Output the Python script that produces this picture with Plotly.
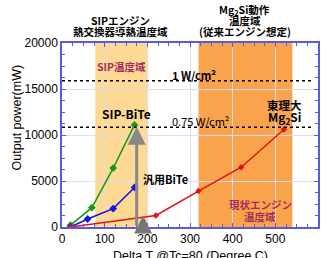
import plotly.graph_objects as go

# Data
green_x = [20, 70, 120, 170]
green_y = [200, 2100, 6400, 11100]
blue_x = [20, 60, 120, 170]
blue_y = [0, 870, 2000, 4300]
red_x = [20, 220, 320, 420, 520]
red_y = [0, 1250, 3900, 6500, 10600]
x_ticks = [0, 100, 200, 300, 400, 500, 600]
y_ticks = [0, 5000, 10000, 15000, 20000]
band_sip = [78, 202]
band_mg = [320, 540]
line_1w = 15900
line_075w = 10850

JP = "Noto Sans CJK JP, Liberation Sans, Arial"
SANS = "Liberation Sans, Arial"
MAG = "#a82c5c"
AX = "#5a5ae0"

fig = go.Figure()
fig.add_trace(go.Scatter(x=green_x, y=green_y, mode="lines+markers",
                         line=dict(color="#169a16", width=1.5),
                         marker=dict(symbol="diamond", size=6, color="#169a16")))
fig.add_trace(go.Scatter(x=blue_x, y=blue_y, mode="lines+markers",
                         line=dict(color="#1414e6", width=1.5),
                         marker=dict(symbol="diamond", size=6, color="#1414e6")))
fig.add_trace(go.Scatter(x=red_x, y=red_y, mode="lines+markers",
                         line=dict(color="#e01414", width=1.5),
                         marker=dict(symbol="diamond", size=5, color="#e01414")))

# bands
fig.add_shape(type="rect", x0=band_sip[0], x1=band_sip[1], y0=0, y1=20000,
              xref="x", yref="y", fillcolor="#fdd994", line_width=0, layer="below")
fig.add_shape(type="rect", x0=band_mg[0], x1=band_mg[1], y0=0, y1=20000,
              xref="x", yref="y", fillcolor="#f9a44c", line_width=0, layer="below")
# dotted lines
for yv in [line_1w, line_075w]:
    fig.add_shape(type="line", x0=0, x1=590, y0=yv, y1=yv, xref="x", yref="y",
                  line=dict(color="black", width=1.5, dash="dot"))

# arrows
fig.add_annotation(x=175, y=10900, ax=175, ay=0, xref="x", yref="y", axref="x", ayref="y",
                   showarrow=True, arrowhead=2, arrowsize=1.2, arrowwidth=3, arrowcolor="#888888", text="")
fig.add_annotation(x=190, y=1250, ax=190, ay=0, xref="x", yref="y", axref="x", ayref="y",
                   showarrow=True, arrowhead=2, arrowsize=1.2, arrowwidth=3, arrowcolor="#777777", text="")

def txt(x, y, t, color="black", size=10.5, bold=True, xanchor="center", yanchor="middle",
        xref="x", yref="y", family=JP, angle=0):
    fig.add_annotation(x=x, y=y, text=(f"<b>{t}</b>" if bold else t), showarrow=False,
                       xref=xref, yref=yref, xanchor=xanchor, yanchor=yanchor, textangle=angle,
                       font=dict(family=family, size=size, color=color))

txt(140, 17400, "SIP温度域", color=MAG)
txt(310, 16500, "1 W/cm²", size=11)
txt(152, 12350, "SIP-BiTe", size=12)
txt(325, 11550, "0.75 W/cm²", bold=False, size=11)
txt(522, 13250, "東理大", size=11.5)
txt(522, 11900, "Mg<sub>2</sub>Si", size=12)
txt(184, 5200, "汎用BiTe", xanchor="left", size=11)
txt(465, 2400, "現状エンジン", color=MAG)
txt(465, 1150, "温度域", color=MAG)
# titles above plot (paper coords: 1 = plot top)
txt(136, 1.125, "SIPエンジン", yref="paper")
txt(136, 1.060, "熱交換器導熱温度域", yref="paper")
txt(428, 1.179, "Mg<sub>2</sub>Si動作", yref="paper")
txt(428, 1.120, "温度域", yref="paper")
txt(428, 1.060, "(従来エンジン想定)", yref="paper")
# axis titles
txt(0.5, -0.158, "Delta T @Tc=80 (Degree C)", xref="paper", yref="paper", bold=False,
    size=12.5, family=SANS)
txt(-0.174, 0.598, "Output power(mW)", xref="paper", yref="paper", bold=False,
    size=12.5, family=SANS, angle=-90)

fig.update_layout(
    width=327, height=258, margin=dict(l=62, r=9, t=43, b=31),
    paper_bgcolor="white", plot_bgcolor="white", showlegend=False,
    font=dict(family=SANS, size=12, color="black"),
)
fig.update_xaxes(range=[0, 600], tickvals=x_ticks, showgrid=True, gridcolor="#dcdcf4",
                 showline=True, linecolor=AX, linewidth=1.5, mirror="ticks",
                 ticks="inside", tickcolor=AX, ticklen=4, automargin=False,
                 minor=dict(dtick=25, ticks="inside", ticklen=3, tickcolor=AX),
                 zeroline=False)
fig.update_yaxes(range=[0, 20000], tickvals=y_ticks, tickformat="d", showgrid=True, gridcolor="#dcdcf4",
                 showline=True, linecolor=AX, linewidth=1.5, mirror="ticks",
                 ticks="inside", tickcolor=AX, ticklen=4, automargin=False,
                 minor=dict(dtick=1250, ticks="inside", ticklen=3, tickcolor=AX),
                 zeroline=False)

fig.write_html("out.html", config={"displayModeBar": False},
               post_script="document.body.style.margin='0';document.body.style.padding='0';")
